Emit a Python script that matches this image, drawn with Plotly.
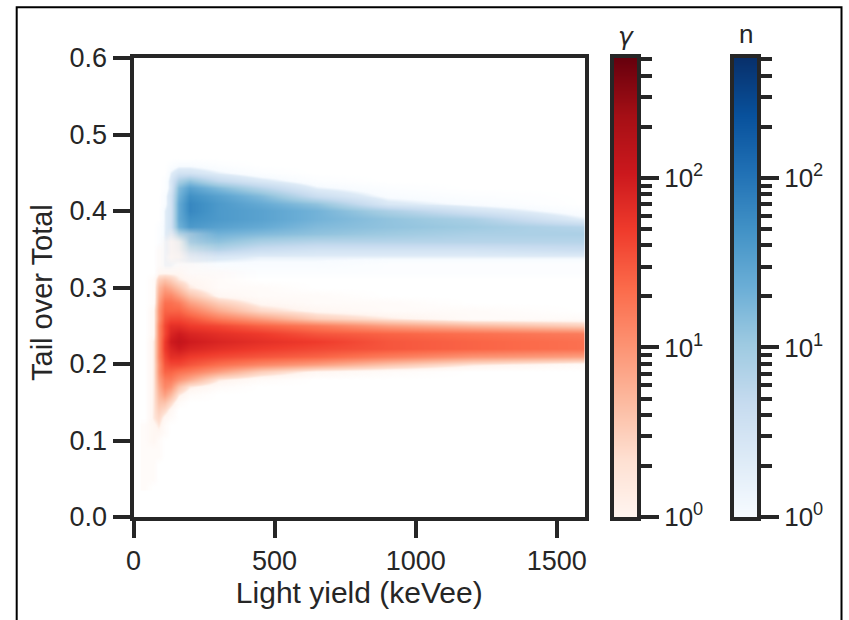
import math
import plotly.graph_objects as go

# light yield columns (keVee) and Tail-over-Total rows; cell values are log10(counts) x 10
light_yield = [40, 70, 90, 110, 130, 160, 200, 300, 450, 650, 900, 1200, 1600]
gamma_tot = [0.04, 0.05, 0.06, 0.07, 0.08, 0.09, 0.10, 0.11, 0.12, 0.13, 0.14, 0.15, 0.16, 0.17, 0.18, 0.19,
             0.20, 0.21, 0.22, 0.23, 0.24, 0.25, 0.26, 0.27, 0.28, 0.29, 0.30, 0.31, 0.32, 0.33, 0.34, 0.35,
             0.36, 0.37, 0.38]
gamma_counts = [
    [1, 0, 0, 0, 0, 0, 0, 0, 0, 0, 0, 0, 0],
    [1, 1, 0, 0, 0, 0, 0, 0, 0, 0, 0, 0, 0],
    [1, 1, 0, 0, 0, 0, 0, 0, 0, 0, 0, 0, 0],
    [1, 1, 0, 0, 0, 0, 0, 0, 0, 0, 0, 0, 0],
    [1, 1, 1, 0, 0, 0, 0, 0, 0, 0, 0, 0, 0],
    [1, 1, 1, 0, 0, 0, 0, 0, 0, 0, 0, 0, 0],
    [1, 2, 1, 0, 0, 0, 0, 0, 0, 0, 0, 0, 0],
    [1, 2, 2, 1, 0, 0, 0, 0, 0, 0, 0, 0, 0],
    [1, 2, 3, 1, 0, 0, 0, 0, 0, 0, 0, 0, 0],
    [0, 3, 4, 2, 1, 0, 0, 0, 0, 0, 0, 0, 0],
    [0, 3, 5, 4, 2, 0, 0, 0, 0, 0, 0, 0, 0],
    [0, 3, 6, 6, 4, 1, 0, 0, 0, 0, 0, 0, 0],
    [0, 3, 7, 9, 7, 3, 1, 0, 0, 0, 0, 0, 0],
    [0, 3, 8, 11, 10, 6, 3, 1, 0, 0, 0, 0, 0],
    [0, 3, 9, 12, 12, 10, 8, 3, 1, 0, 0, 0, 0],
    [0, 3, 10, 14, 14, 13, 12, 9, 5, 2, 1, 0, 0],
    [0, 3, 10, 15, 16, 16, 15, 13, 11, 9, 6, 3, 1],
    [0, 3, 11, 16, 18, 18, 17, 16, 15, 14, 12, 10, 9],
    [0, 3, 11, 17, 19, 20, 19, 18, 17, 16, 15, 14, 13],
    [0, 3, 11, 17, 20, 21, 20, 19, 18, 17, 15, 14, 13],
    [0, 2, 11, 16, 19, 20, 19, 18, 17, 15, 14, 13, 12],
    [0, 2, 11, 16, 18, 18, 17, 16, 14, 12, 9, 7, 5],
    [0, 2, 10, 15, 16, 16, 15, 12, 9, 5, 3, 1, 1],
    [0, 2, 10, 14, 14, 14, 12, 8, 4, 2, 1, 1, 0],
    [0, 1, 9, 13, 13, 12, 9, 5, 2, 1, 1, 0, 0],
    [0, 1, 8, 11, 11, 9, 6, 2, 1, 1, 0, 0, 0],
    [0, 1, 7, 9, 8, 6, 3, 1, 1, 0, 0, 0, 0],
    [0, 1, 5, 6, 5, 3, 2, 1, 0, 0, 0, 0, 0],
    [0, 0, 2, 2, 2, 2, 1, 1, 0, 0, 0, 0, 0],
    [0, 0, 1, 1, 1, 1, 1, 0, 0, 0, 0, 0, 0],
    [0, 0, 1, 1, 2, 2, 1, 0, 0, 0, 0, 0, 0],
    [0, 0, 1, 1, 2, 2, 1, 0, 0, 0, 0, 0, 0],
    [0, 0, 0, 1, 2, 2, 1, 0, 0, 0, 0, 0, 0],
    [0, 0, 0, 0, 1, 1, 1, 0, 0, 0, 0, 0, 0],
    [0, 0, 0, 0, 0, 0, 0, 0, 0, 0, 0, 0, 0],
]
neutron_tot = [0.30, 0.31, 0.32, 0.33, 0.34, 0.35, 0.36, 0.37, 0.38, 0.39, 0.40, 0.41, 0.42, 0.43, 0.44, 0.45,
               0.46, 0.47]
neutron_counts = [
    [0, 0, 1, 1, 1, 1, 0, 0, 0, 0, 0, 0, 0],
    [0, 0, 1, 2, 1, 1, 1, 0, 0, 0, 0, 0, 0],
    [0, 0, 1, 2, 2, 1, 1, 1, 1, 1, 1, 1, 1],
    [0, 0, 1, 3, 3, 2, 2, 2, 2, 2, 1, 1, 1],
    [0, 0, 1, 3, 3, 4, 5, 4, 3, 3, 3, 3, 3],
    [0, 0, 1, 3, 4, 8, 9, 8, 6, 5, 5, 5, 6],
    [0, 0, 1, 3, 4, 10, 13, 11, 9, 8, 8, 8, 8],
    [0, 0, 1, 3, 5, 12, 15, 13, 12, 11, 10, 9, 9],
    [0, 0, 1, 3, 5, 13, 16, 15, 14, 12, 11, 10, 8],
    [0, 0, 0, 3, 5, 14, 17, 16, 15, 13, 11, 9, 3],
    [0, 0, 0, 3, 5, 14, 18, 16, 15, 13, 9, 5, 1],
    [0, 0, 0, 2, 5, 14, 18, 16, 14, 11, 4, 2, 0],
    [0, 0, 0, 2, 5, 13, 17, 15, 12, 6, 2, 1, 0],
    [0, 0, 0, 1, 4, 12, 15, 12, 8, 3, 1, 0, 0],
    [0, 0, 0, 1, 4, 9, 11, 7, 4, 1, 0, 0, 0],
    [0, 0, 0, 0, 3, 5, 5, 3, 1, 0, 0, 0, 0],
    [0, 0, 0, 0, 1, 2, 2, 1, 0, 0, 0, 0, 0],
    [0, 0, 0, 0, 0, 0, 0, 0, 0, 0, 0, 0, 0],
]
x_ticks = [0, 500, 1000, 1500]
y_ticks = [0.0, 0.1, 0.2, 0.3, 0.4, 0.5, 0.6]
y_ticktext = ["0.0", "0.1", "0.2", "0.3", "0.4", "0.5", "0.6"]
cbar_levels = [1, 2, 5, 10, 20, 50, 100, 200, 510]
cbar_major = [1, 10, 100]
cbar_major_text = ["10<sup>0</sup>", "10<sup>1</sup>", "10<sup>2</sup>"]
cbar_minor = [2, 3, 4, 5, 6, 7, 8, 9, 20, 30, 40, 50, 60, 70, 80, 90, 200, 300, 400, 500]

reds = ["#fff5f0", "#fee0d2", "#fcbba1", "#fc9272", "#fb6a4a", "#ef3b2c", "#cb181d", "#a50f15", "#67000d"]
blues = ["#f7fbff", "#deebf7", "#c6dbef", "#9ecae1", "#6baed6", "#4292c6", "#2171b5", "#08519c", "#08306b"]
INK = "#262626"
FONT = "Liberation Sans"
W, H = 849, 620
Z_MAX = math.log10(510)


def opaque(cols):
    return [[i / (len(cols) - 1), c] for i, c in enumerate(cols)]


def fading(cols):
    # the lowest bins fade out so that the two populations can overlap on white
    h = cols[0].lstrip("#")
    r, g, b = int(h[:2], 16), int(h[2:4], 16), int(h[4:], 16)
    scale = [[0, f"rgba({r},{g},{b},0)"], [0.04, f"rgba({r},{g},{b},0.45)"], [0.09, f"rgba({r},{g},{b},1)"]]
    scale += [[i / (len(cols) - 1), c] for i, c in enumerate(cols) if i > 0]
    return scale


def tenths(table):
    return [[v / 10 for v in row] for row in table]


def dx(a, b):
    return [a / W, b / W]


def dy(top, bottom):
    return [1 - bottom / H, 1 - top / H]


fig = go.Figure()
fig.add_trace(go.Heatmap(x=light_yield, y=neutron_tot, z=tenths(neutron_counts), zmin=0, zmax=Z_MAX,
                         colorscale=fading(blues), zsmooth="best", showscale=False, hoverinfo="skip",
                         xaxis="x", yaxis="y"))
fig.add_trace(go.Heatmap(x=light_yield, y=gamma_tot, z=tenths(gamma_counts), zmin=0, zmax=Z_MAX,
                         colorscale=fading(reds), zsmooth="best", showscale=False, hoverinfo="skip",
                         xaxis="x", yaxis="y"))
cbar_z = [[math.log10(v)] * 2 for v in cbar_levels]
fig.add_trace(go.Heatmap(x=[0, 1], y=cbar_levels, z=cbar_z, zmin=0, zmax=Z_MAX, colorscale=opaque(reds),
                         zsmooth="best", showscale=False, hoverinfo="skip", xaxis="x2", yaxis="y2"))
fig.add_trace(go.Heatmap(x=[0, 1], y=cbar_levels, z=cbar_z, zmin=0, zmax=Z_MAX, colorscale=opaque(blues),
                         zsmooth="best", showscale=False, hoverinfo="skip", xaxis="x3", yaxis="y3"))

axis_style = dict(showline=True, linecolor=INK, linewidth=4, mirror=True, showgrid=False, zeroline=False,
                  color=INK, tickcolor=INK, automargin=False, tickfont=dict(family=FONT, size=27, color=INK))


def cbar_yaxis(anchor):
    return dict(axis_style, type="log", range=[0, Z_MAX], anchor=anchor, side="right", ticks="outside",
                ticklen=18, tickwidth=3.5, tickmode="array", tickvals=cbar_major, ticktext=cbar_major_text,
                tickfont=dict(family=FONT, size=26, color=INK),
                minor=dict(tickmode="array", tickvals=cbar_minor, ticks="outside", ticklen=11, tickwidth=3.5,
                           tickcolor=INK, showgrid=False),
                domain=dy(58, 517))


def cbar_xaxis(a, b, anchor):
    return dict(axis_style, range=[0, 1], domain=dx(a, b), anchor=anchor, showticklabels=False, ticks="")


fig.update_layout(
    width=W, height=H, margin=dict(l=0, r=0, t=0, b=0, autoexpand=False), autosize=False,
    paper_bgcolor="white", plot_bgcolor="white", showlegend=False,
    font=dict(family=FONT, color=INK),
    xaxis=dict(axis_style, range=[0, 1600], domain=dx(133.5, 585), anchor="y", ticks="outside", ticklen=17,
               tickwidth=3.5, tickvals=x_ticks,
               title=dict(text="Light yield (keVee)", font=dict(family=FONT, size=30, color=INK), standoff=3)),
    yaxis=dict(axis_style, range=[0, 0.6], domain=dy(58, 517), anchor="x", ticks="outside", ticklen=17,
               tickwidth=3.5, tickvals=y_ticks, ticktext=y_ticktext),
    xaxis2=cbar_xaxis(614, 637, "y2"), yaxis2=cbar_yaxis("x2"),
    xaxis3=cbar_xaxis(734, 757, "y3"), yaxis3=cbar_yaxis("x3"),
    annotations=[
        dict(text="Tail over Total", x=42 / W, y=1 - 293 / H, xref="paper", yref="paper", showarrow=False,
             textangle=-90, xanchor="center", yanchor="middle", font=dict(family=FONT, size=29, color=INK)),
        dict(text="<i>γ</i>", x=626 / W, y=1 - 36 / H, xref="paper", yref="paper", showarrow=False,
             xanchor="center", yanchor="middle", font=dict(family="DejaVu Sans", size=25, color=INK)),
        dict(text="n", x=746 / W, y=1 - 34 / H, xref="paper", yref="paper", showarrow=False,
             xanchor="center", yanchor="middle", font=dict(family=FONT, size=26, color=INK)),
    ],
    shapes=[dict(type="rect", xref="paper", yref="paper", x0=16.7 / W, x1=841.5 / W, y0=-0.02, y1=1 - 7.3 / H,
                 line=dict(color="black", width=2), layer="below")],
)
fig.write_html("out.html", config=dict(displayModeBar=False), post_script="document.body.style.margin='0';")
